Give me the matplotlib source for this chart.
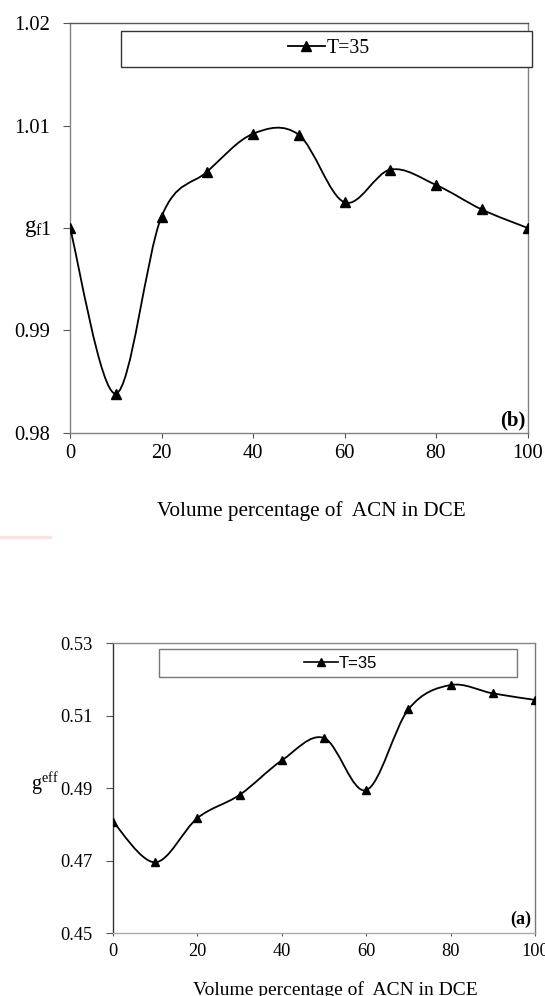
import numpy as np
import matplotlib
matplotlib.use("Agg")
import matplotlib.pyplot as plt
from matplotlib.path import Path
from matplotlib.patches import PathPatch, Rectangle
from matplotlib.lines import Line2D

# ---------------- data ----------------
volume_pct = [0, 10, 20, 30, 40, 50, 60, 70, 80, 90, 100]
gf_T35 = [1.0000, 0.9838, 1.0011, 1.0055, 1.0092, 1.0091, 1.0025, 1.0057, 1.0042, 1.0018, 1.0000]
geff_T35 = [0.4807, 0.4695, 0.4817, 0.4881, 0.4976, 0.5038, 0.4894, 0.5117, 0.5184, 0.5161, 0.5143]

top_yticks = [0.98, 0.99, 1.00, 1.01, 1.02]
top_yticklabels = ["0.98", "0.99", "1", "1.01", "1.02"]
bot_yticks = [0.45, 0.47, 0.49, 0.51, 0.53]
bot_yticklabels = ["0.45", "0.47", "0.49", "0.51", "0.53"]
xticks = [0, 20, 40, 60, 80, 100]
series_label = "T=35"
xlabel_text = "Volume percentage of  ACN in DCE"

plt.rcParams['mathtext.fontset'] = 'custom'
plt.rcParams['mathtext.rm'] = 'Liberation Serif'
plt.rcParams['mathtext.it'] = 'Liberation Serif'

W, H = 545, 996
fig = plt.figure(figsize=(W / 100, H / 100), dpi=100)
fig.patch.set_facecolor("white")
SERIF = "Liberation Serif"


def px_axes(l, t, r, b):
    return fig.add_axes([l / W, 1 - b / H, (r - l) / W, (b - t) / H])


def smooth_path(x, y):
    pts = np.column_stack([np.asarray(x, float), np.asarray(y, float)])
    n = len(pts)
    verts = [pts[0]]
    codes = [Path.MOVETO]
    for i in range(n - 1):
        p0 = pts[max(i - 1, 0)]
        p1 = pts[i]
        p2 = pts[i + 1]
        p3 = pts[min(i + 2, n - 1)]
        c1 = p1 + (p2 - p0) / 6.0
        c2 = p2 - (p3 - p1) / 6.0
        verts += [c1, c2, p2]
        codes += [Path.CURVE4] * 3
    return Path(verts, codes)


def draw_panel(ax, y, yticks, yticklabels, ylim, tick_fs, family_tick, msize,
               spine_cols, xtick_len, ytick_len):
    ax.add_patch(PathPatch(smooth_path(volume_pct, y), fill=False,
                           edgecolor="black", lw=1.3, transform=ax.transData, zorder=3))
    ax.plot(volume_pct, y, linestyle="none", marker="^", color="black",
            markersize=msize, zorder=4)
    ax.set_xlim(0, 100)
    ax.set_ylim(*ylim)
    ax.set_xticks(xticks)
    ax.set_yticks(yticks)
    ax.set_yticklabels(yticklabels)
    for side, c in spine_cols.items():
        ax.spines[side].set_color(c)
        ax.spines[side].set_linewidth(1.0)
    ax.tick_params(axis="y", direction="out", length=ytick_len, width=0.8,
                   color="#555555", pad=9.5, labelsize=tick_fs)
    ax.tick_params(axis="x", direction="out", length=xtick_len, width=0.8,
                   color="#555555", pad=5, labelsize=tick_fs)
    for lab in ax.get_xticklabels() + ax.get_yticklabels():
        lab.set_family(family_tick)
    ax.set_facecolor("white")


# ---------------- top panel (b) ----------------
ax1 = px_axes(70, 23.3, 527.5, 432.5)
draw_panel(ax1, gf_T35, top_yticks, top_yticklabels, (0.98, 1.02), 14.8, SERIF, 7,
           {"left": "#808080", "bottom": "#808080", "top": "#555555", "right": "#808080"},
           3.6, 4.8)
ax1.add_patch(Rectangle((0.1115, 0.8937), 1.0098 - 0.1115, 0.9817 - 0.8937,
                        transform=ax1.transAxes, fill=True, facecolor="white",
                        edgecolor="#333333", lw=1.0, clip_on=False, zorder=5))
h1 = Line2D([], [], color="black", lw=1.3, marker="^", markersize=7)
leg1 = ax1.legend([h1], [series_label], loc="center", bbox_to_anchor=(0.566, 0.9377),
                  frameon=False, handlelength=1.85, handletextpad=0.1,
                  prop={"family": SERIF, "size": 14.2})
leg1.set_zorder(6)
ax1.text(0.996, 0.029, "(b)", transform=ax1.transAxes, ha="right", va="center",
         fontsize=15, fontweight="bold", family=SERIF, zorder=5)
fig.text(311 / W, 1 - 516 / H, xlabel_text, ha="center", va="baseline",
         fontsize=15.2, family=SERIF)
fig.text(43 / W, 1 - 232 / H, r"$\mathrm{g}_{\mathrm{f}}$", ha="right", va="baseline",
         fontsize=16.5)

# ---------------- bottom panel (a) ----------------
ax2 = px_axes(113, 643, 535, 933)
draw_panel(ax2, geff_T35, bot_yticks, bot_yticklabels, (0.45, 0.53), 13.2, SERIF, 5.5,
           {"left": "#333333", "bottom": "#aaaaaa", "top": "#888888", "right": "#777777"},
           2.5, 5.0)
ax2.add_patch(Rectangle((0.110, 0.883), 0.957 - 0.110, 0.979 - 0.883,
                        transform=ax2.transAxes, fill=True, facecolor="white",
                        edgecolor="#777777", lw=1.0, clip_on=False, zorder=5))
h2 = Line2D([], [], color="black", lw=1.2, marker="^", markersize=5.5)
leg2 = ax2.legend([h2], [series_label], loc="center", bbox_to_anchor=(0.539, 0.931),
                  frameon=False, handlelength=2.0, handletextpad=0.05,
                  prop={"family": "Liberation Sans", "size": 12})
leg2.set_zorder(6)
ax2.text(0.99, 0.048, "(a)", transform=ax2.transAxes, ha="right", va="center",
         fontsize=13, fontweight="bold", family=SERIF, zorder=5)
fig.text(335 / W, 1 - 995 / H, xlabel_text, ha="center", va="baseline",
         fontsize=14, family=SERIF)
fig.text(59 / W, 1 - 791 / H, r"$\mathrm{g}^{\mathrm{eff}}$", ha="right", va="baseline",
         fontsize=14.5)

# faint pinkish smear seen at left edge of the reference
fig.add_artist(Line2D([0 / W, 50 / W], [1 - 537 / H, 1 - 537 / H], color="#fbe3e3", lw=2.5))

fig.savefig("out.png", dpi=100, facecolor="white")
